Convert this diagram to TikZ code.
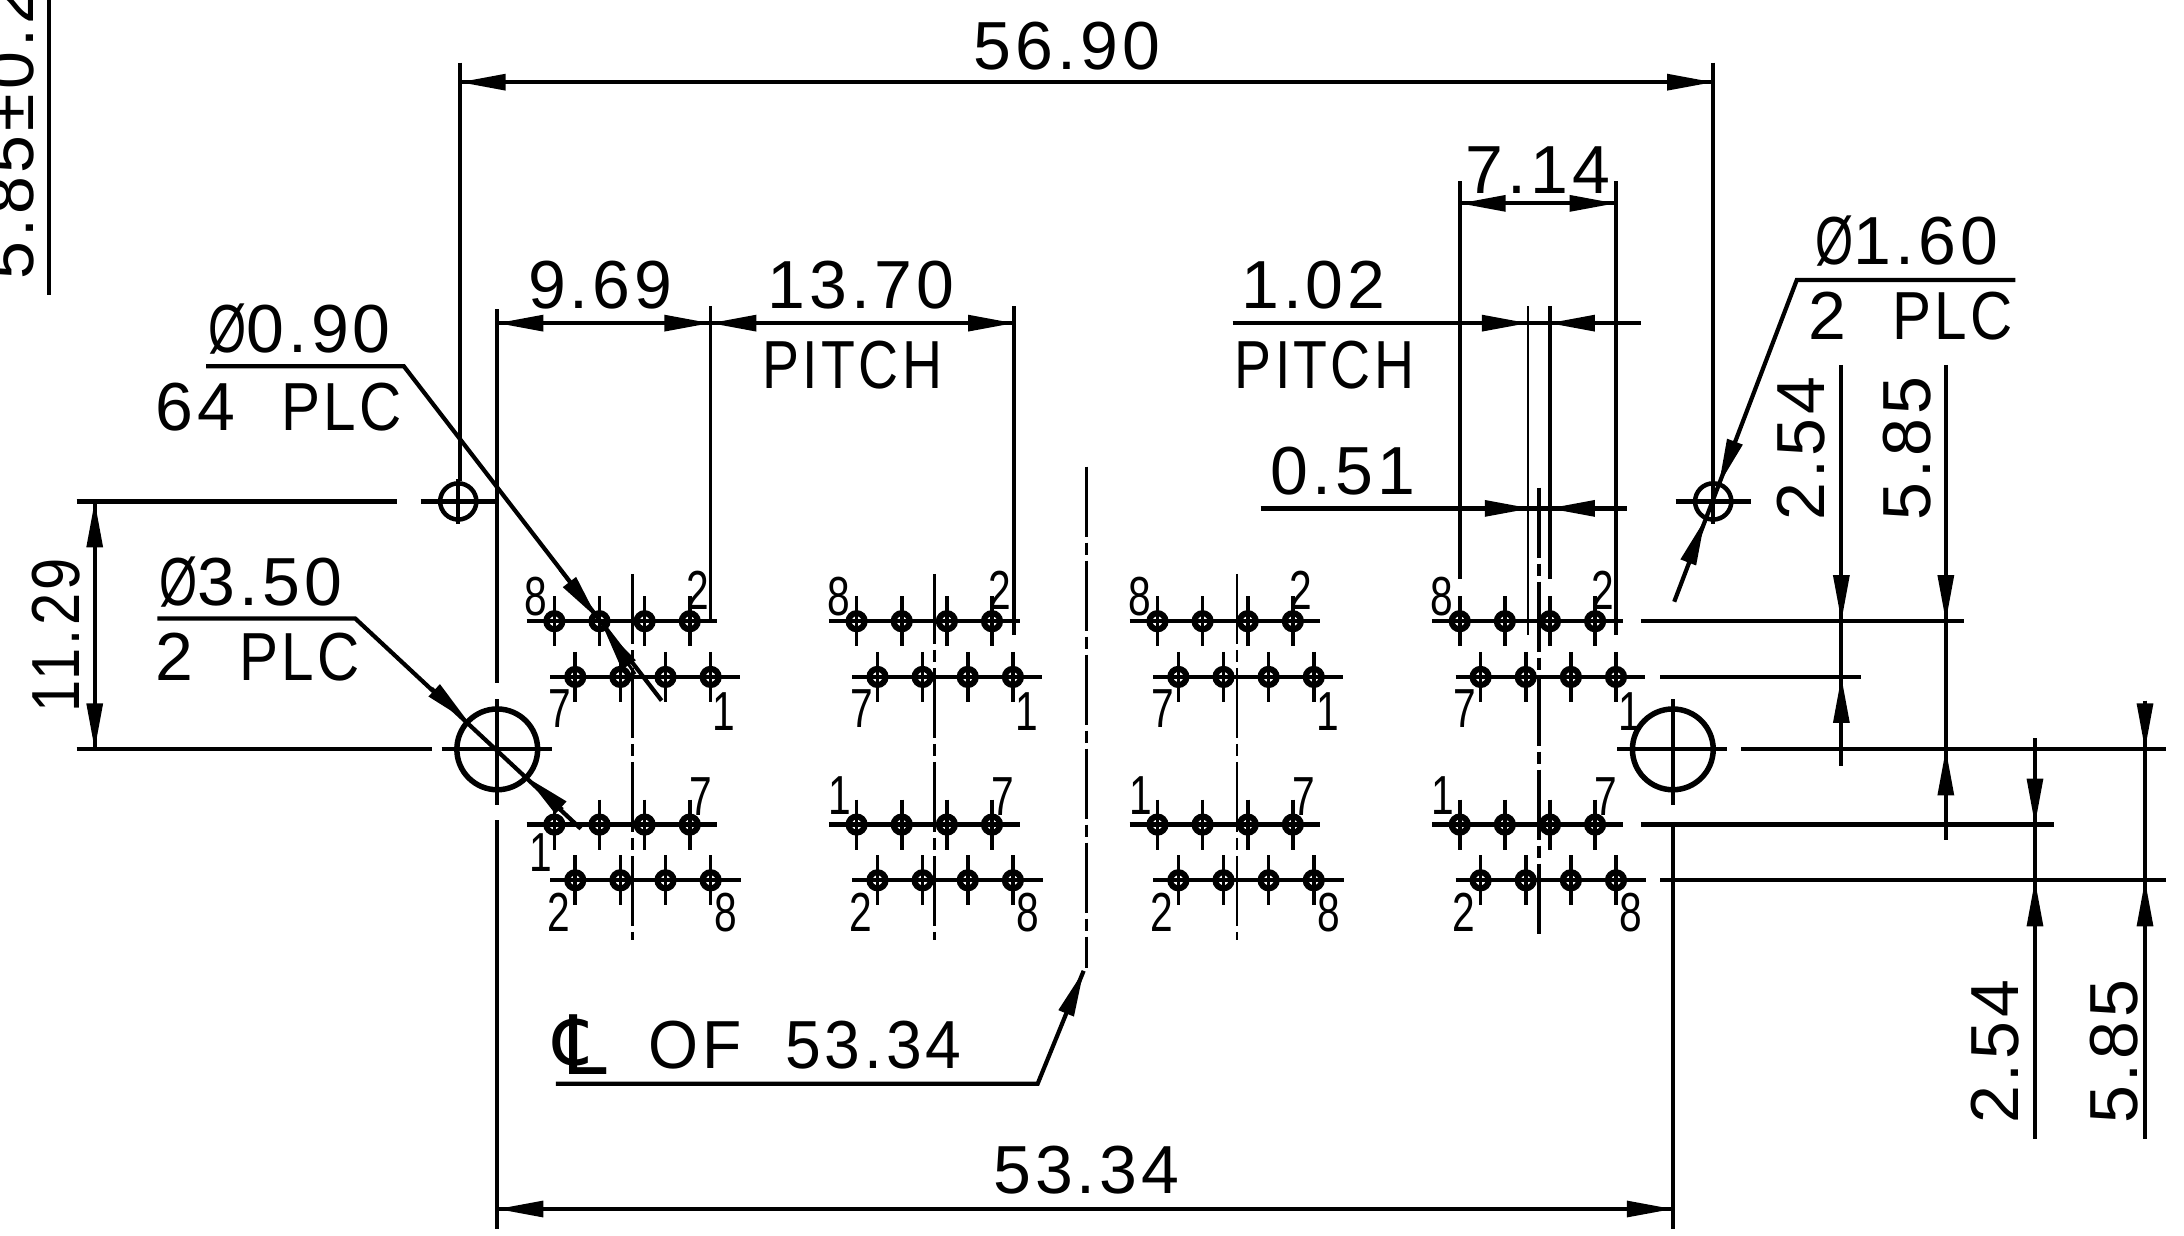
\documentclass[tikz,border=0pt]{standalone}
\usepackage{fontspec}
\usetikzlibrary{arrows.meta}
\setmainfont{Liberation Sans}[LetterSpace=6]
\newfontfamily\dejavu{DejaVu Sans}
\newcommand{\pinnum}[1]{\scalebox{.74}[1]{\fontsize{55}{55}\selectfont #1}}
\newcommand{\plc}{\scalebox{.86}[1]{PLC}}
\newcommand{\pitch}{\scalebox{.815}[1]{PITCH}}
\newcommand{\dia}{\scalebox{.72}[1]{Ø}}
\tikzset{
  x=1.3929pt,y=-1.3929pt,
  ln/.style={line width=4.2pt,black},
  thinln/.style={line width=2.6pt,black},
  head/.style={line width=3pt,-{Triangle[length=46pt,width=16pt]}},
  lab/.style={inner sep=0pt,font=\fontsize{68}{68}\selectfont},
  pinlab/.style={inner sep=0pt},
  cline/.style={line width=3.6pt,dash pattern=on 70pt off 6pt on 12pt off 6pt},
  pinhole/.style={line width=4.5pt,draw=black},
}
\begin{document}
\begin{tikzpicture}
\clip (0,0) rectangle (1568,887);
\fill[white] (0,0) rectangle (1568,887);

% clipped rotated text, top left
\node[lab,rotate=90,anchor=south west] (tol) at (25,201) {5.85±0.2};
\draw[ln] (35,0) -- (35,212);

% top overall dimension
\draw[ln] (330,45) -- (330,345);
\draw[ln] (1230,45) -- (1230,345);
\draw[ln] (330,59) -- (1230,59);
\draw[head] (365,59) -- (330,59);
\draw[head] (1195,59) -- (1230,59);
\node[lab] (d5690) at (766,33) {56.90};

% small datum holes
\foreach \hx/\nm in {329/a,1230/b}{
  \draw[pinhole] (\hx,360) circle (13);
  \draw[ln] ({\hx-27},360) -- ({\hx+27},360);
  \draw[ln] (\hx,344) -- (\hx,376);
}
% big holes
\foreach \hx in {357,1201}{
  \draw[line width=5.5pt] (\hx,538) circle (29);
  \draw[ln] ({\hx-40},538) -- ({\hx+39},538);
  \draw[ln] (\hx,502) -- (\hx,578);
}

% left 11.29
\draw[ln] (55,360) -- (285,360);
\draw[ln] (55,538) -- (310,538);
\draw[ln] (68,360) -- (68,538);
\draw[head] (68,395) -- (68,360);
\draw[head] (68,503) -- (68,538);
\node[lab,rotate=90] (d1129) at (40,456) {\scalebox{.85}[1]{11.29}};

% phi 0.90 leader
\node[lab] (d090) at (215,236) {\dia0.90};
\node[lab] (d64) at (200,292) {64~~\plc};
\draw[ln] (148,263) -- (290,263) -- (475,503);
\draw[head] (402,409) -- (429,444);
\draw[head] (456,484) -- (433,450);

% phi 3.50 leader
\node[lab] (d350) at (180,418) {\dia3.50};
\node[lab] (d2a) at (185,472) {2~~\plc};
\draw[ln] (113,444) -- (255,444) -- (417,595);
\draw[head] (310,494) -- (336,518);
\draw[head] (404,581) -- (378,558);

% phi 1.60 leader
\node[lab] (d160) at (1369,173) {\dia1.60};
\node[lab] (d2b) at (1372,227) {2~~\plc};
\draw[ln] (1447,201) -- (1290,201) -- (1202,432);
\draw[head] (1246,316) -- (1234,348);
\draw[head] (1212,404) -- (1224,373);

% 9.69 and 13.70
\draw[ln] (357,222) -- (357,490);
\draw[thinln] (510,220) -- (510,445);
\draw[ln] (728,220) -- (728,456);
\draw[ln] (357,232) -- (728,232);
\draw[head] (392,232) -- (357,232);
\draw[head] (475,232) -- (510,232);
\draw[head] (545,232) -- (510,232);
\draw[head] (693,232) -- (728,232);
\node[lab] (d969) at (431,205) {9.69};
\node[lab] (d1370) at (618,205) {13.70};
\node[lab] (dpa) at (612,262) {\pitch};

% 7.14, 1.02, 0.51
\draw[ln] (1048,130) -- (1048,416);
\draw[ln] (1160,130) -- (1160,456);
\draw[ln] (1048,146) -- (1160,146);
\draw[head] (1083,146) -- (1048,146);
\draw[head] (1125,146) -- (1160,146);
\node[lab] (d714) at (1104,122) {7.14};
\draw[thinln] (1097,220) -- (1097,456);
\draw[ln] (1113,220) -- (1113,416);
\draw[ln] (885,232) -- (1178,232);
\draw[head] (1062,232) -- (1097,232);
\draw[head] (1147,232) -- (1112,232);
\node[lab] (d102) at (943,205) {1.02};
\node[lab] (dpb) at (951,262) {\pitch};
\draw[ln] (905,365) -- (1168,365);
\draw[head] (1064,365) -- (1099,365);
\draw[head] (1143,365) -- (1112,365);
\node[lab] (d051) at (964,338) {0.51};

% pin groups
\foreach \o in {0,217,433,650}{
  \foreach \ry/\rx/\rl/\rr in {446/398/378/515,486/413/395/531,592/398/378/515,632/413/395/532}{
    \draw[ln] ({\o+\rl},\ry) -- ({\o+\rr},\ry);
    \foreach \k in {0,1,2,3}{
      \pgfmathsetmacro{\px}{\o+\rx+\k*32.4}
      \draw[pinhole,line width=6pt] (\px,\ry) circle (5.8);
      \draw[line width=3.6pt] (\px,{\ry-18}) -- (\px,{\ry+18});
    }
  }
  \node[pinlab] (l8a\o) at ({\o+385},428) {\pinnum{8}};
  \node[pinlab] (l2a\o) at ({\o+501},424) {\pinnum{2}};
  \node[pinlab] (l7a\o) at ({\o+402},509) {\pinnum{7}};
  \node[pinlab] (l1a\o) at ({\o+520},511) {\pinnum{1}};
  \node[pinlab] (l7b\o) at ({\o+503},572) {\pinnum{7}};
  \node[pinlab] (l2b\o) at ({\o+401},655) {\pinnum{2}};
  \node[pinlab] (l8b\o) at ({\o+521},655) {\pinnum{8}};
}
\node[pinlab] (l1b0) at (388,612) {\pinnum{1}};
\foreach \o in {217,433,650}{
  \node[pinlab] (l1b\o) at ({\o+386},571) {\pinnum{1}};
}
% pin-group centre lines
\draw[cline] (454,412) -- (454,675);
\draw[cline] (671,412) -- (671,675);
\draw[cline,line width=2.4pt] (888,412) -- (888,675);
\draw[cline] (1105,350) -- (1105,673);
% centre line of 53.34
\draw[cline] (780,335) -- (780,695);

% CL leader
\node[inner sep=0pt,font=\dejavu\fontsize{82}{82}\selectfont] (cl) at (417,750) {℄};
\node[lab] (of) at (578,750) {\scalebox{.945}[1]{OF~~53.34}};
\draw[ln] (399,778) -- (745,778) -- (778,697);
\draw[head] (764,731) -- (778,697);

% bottom 53.34
\draw[ln] (357,589) -- (357,882);
\draw[ln] (1201,590) -- (1201,882);
\draw[ln] (357,868) -- (1201,868);
\draw[head] (392,868) -- (357,868);
\draw[head] (1166,868) -- (1201,868);
\node[lab] (d5334) at (780,840) {53.34};

% right extension lines
\draw[ln] (1178,446) -- (1410,446);
\draw[ln] (1192,486) -- (1336,486);
\draw[ln] (1250,538) -- (1555,538);
\draw[ln] (1178,592) -- (1475,592);
\draw[ln] (1192,632) -- (1555,632);

% right vertical dims
\draw[ln] (1322,262) -- (1322,550);
\draw[head] (1322,411) -- (1322,446);
\draw[head] (1322,521) -- (1322,486);
\node[lab,rotate=90] (r254) at (1293,322) {2.54};
\draw[ln] (1397,262) -- (1397,603);
\draw[head] (1397,411) -- (1397,446);
\draw[head] (1397,573) -- (1397,538);
\node[lab,rotate=90] (r585) at (1369,322) {5.85};
\draw[ln] (1461,530) -- (1461,818);
\draw[head] (1461,557) -- (1461,592);
\draw[head] (1461,667) -- (1461,632);
\node[lab,rotate=90] (s254) at (1432,755) {2.54};
\draw[ln] (1540,503) -- (1540,818);
\draw[head] (1540,503) -- (1540,538);
\draw[head] (1540,667) -- (1540,632);
\node[lab,rotate=90] (s585) at (1518,755) {5.85};
\end{tikzpicture}
\end{document}
